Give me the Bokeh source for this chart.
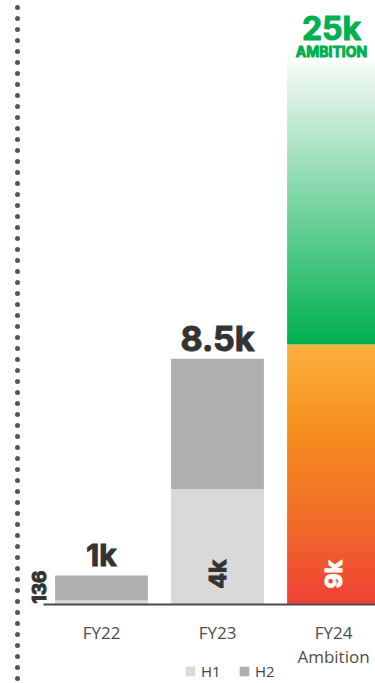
import numpy as np
from bokeh.plotting import figure
from bokeh.models import Range1d, Span, Legend, LegendItem
from bokeh.core.properties import value
from bokeh.embed import file_html
from bokeh.resources import INLINE

# ---------------- data ----------------
categories = ["FY22", "FY23", "FY24"]
category_labels = ["FY22", "FY23", "FY24\nAmbition"]
h1 = [136, 4000]            # FY22, FY23 first half
h2 = [864, 4500]            # FY22, FY23 second half
totals = [1000, 8500]
total_labels = ["1k", "8.5k"]
h1_labels = ["136", "4k"]
fy24_h1 = 9000
fy24_h1_label = "9k"
fy24_ambition = 25000
fy24_ambition_label = "25k"
fy24_ambition_word = "AMBITION"
legend_labels = ["H1", "H2"]

# ---------------- style ----------------
W, H = 375, 683
BAR_W = 0.8
PX_X = 116.0          # pixels per category
PX_Y = 0.0289         # pixels per unit
LEFT_PX = 101.0       # first category centre from left edge
BASE_PX = 79.0        # baseline from bottom edge
DARK = "#333333"
H1_COL = "#D9D9D9"
H2_COL = "#AFAFAF"
GREEN = "#00B050"
BIG_FONT = value("Inter")
SMALL_FONT = value("Open Sans")

xs = list(range(len(categories)))

p = figure(width=W, height=H, output_backend="svg", toolbar_location=None,
           x_range=Range1d(-LEFT_PX / PX_X, (W - LEFT_PX) / PX_X),
           y_range=Range1d(-BASE_PX / PX_Y, (H - BASE_PX) / PX_Y),
           x_axis_type=None, y_axis_type=None, min_border=0,
           min_border_left=0, min_border_right=0, min_border_top=0, min_border_bottom=0)
p.outline_line_color = None
p.grid.visible = False
p.background_fill_color = "white"
p.border_fill_color = "white"


def hex_rgb(h):
    h = h.lstrip("#")
    return [int(h[i:i + 2], 16) for i in (0, 2, 4)]


def gradient(stops, n=400):
    fr = np.linspace(0, 1, n)
    pos = [s[0] for s in stops]
    cols = np.array([hex_rgb(s[1]) for s in stops], dtype=float)
    img = np.zeros((n, 2), dtype=np.uint32)
    view = img.view(dtype=np.uint8).reshape((n, 2, 4))
    for c in range(3):
        ch = np.interp(fr, pos, cols[:, c])
        view[:, :, c] = ch[:, None].astype(np.uint8)
    view[:, :, 3] = 255
    return img


# gray stacked bars FY22, FY23
r1 = p.vbar(x=xs[:2], bottom=0, top=h1, width=BAR_W, fill_color=H1_COL, line_color=None)
r2 = p.vbar(x=xs[:2], bottom=h1, top=totals, width=BAR_W, fill_color=H2_COL, line_color=None)

# FY24 gradient bars
orange = gradient([(0, "#EF4136"), (0.33, "#F26D29"), (0.7, "#F6921E"), (1, "#FBB040")])
green = gradient([(0, GREEN), (0.60, "#F2F9F4"), (0.615, "#FFFFFF"), (1, "#FFFFFF")], n=800)
p.image_rgba(image=[orange], x=xs[2] - BAR_W / 2, y=0, dw=BAR_W, dh=fy24_h1)
p.image_rgba(image=[green], x=xs[2] - BAR_W / 2, y=fy24_h1, dw=BAR_W, dh=fy24_ambition - fy24_h1)

# baseline
p.segment(x0=xs[0] - 0.5, y0=0, x1=xs[-1] + 0.5, y1=0, line_color="#4a4a4a", line_width=2)

# dotted divider
p.add_layout(Span(location=-0.724, dimension="height", line_color="#555555", line_width=5,
                  line_dash="0 11", line_cap="round", line_dash_offset=4))

bold = dict(text_font=BIG_FONT, text_font_style="bold", text_align="center",
            text_baseline="alphabetic")

# totals above bars
p.text(x=[xs[0]], y=[totals[0]], text=[total_labels[0]], text_font_size="30px",
       text_color=DARK, text_outline_color=DARK, y_offset=-21, **bold)
p.text(x=[xs[1]], y=[totals[1]], text=[total_labels[1]], text_font_size="34px",
       text_color=DARK, text_outline_color=DARK, y_offset=-20, **bold)

# ambition label
top = p.y_range.end
p.text(x=[xs[2]], y=[top], text=[fy24_ambition_label], text_font_size="32px",
       text_color=GREEN, text_outline_color=GREEN, y_offset=28, x_offset=-2, **bold)
p.text(x=[xs[2]], y=[top], text=[fy24_ambition_word], text_font_size="14px",
       text_color=GREEN, text_outline_color=GREEN, y_offset=51, x_offset=-2, **bold)

# rotated H1 labels
rot = dict(text_font=BIG_FONT, text_font_style="bold", text_align="left",
           text_baseline="middle", angle=np.pi / 2)
p.text(x=[xs[0]], y=[0], text=[h1_labels[0]], text_font_size="19px", text_color=DARK,
       text_outline_color=DARK, x_offset=-63, y_offset=-1, **rot)
p.text(x=[xs[1]], y=[0], text=[h1_labels[1]], text_font_size="23px", text_color=DARK,
       text_outline_color=DARK, y_offset=-16, **rot)
p.text(x=[xs[2]], y=[0], text=[fy24_h1_label], text_font_size="23px", text_color="white",
       text_outline_color="white", y_offset=-16, **rot)

# category labels
p.text(x=xs, y=[0] * len(xs), text=category_labels, text_font=SMALL_FONT, text_font_size="17px",
       text_color="#4d4d4d", text_align="center", text_baseline="top", y_offset=16,
       text_line_height=1.08)

legend = Legend(items=[LegendItem(label=legend_labels[0], renderers=[r1]),
                       LegendItem(label=legend_labels[1], renderers=[r2])],
                location=(184, 2), orientation="horizontal", glyph_width=12, glyph_height=12,
                label_text_font="Open Sans", label_text_font_size="15px", label_text_color="#444444",
                label_standoff=5, spacing=17, padding=0, margin=0, border_line_color=None,
                background_fill_alpha=0, label_height=16)
p.add_layout(legend)

open("out.html", "w").write(file_html(p, INLINE))
